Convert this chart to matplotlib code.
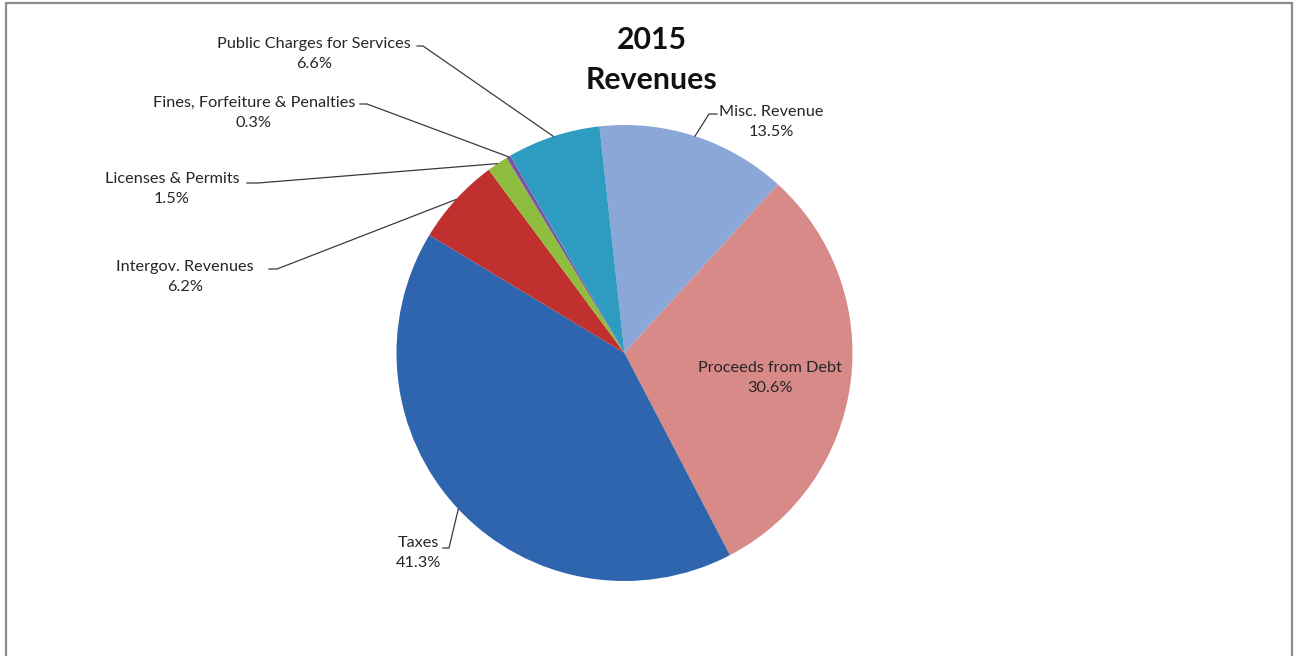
import matplotlib.pyplot as plt
from matplotlib.patches import Rectangle
import numpy as np

# 2015 revenue shares (percent)
categories = ["Misc. Revenue", "Proceeds from Debt", "Taxes", "Intergov. Revenues",
              "Licenses & Permits", "Fines, Forfeiture & Penalties",
              "Public Charges for Services"]
shares = [13.5, 30.6, 41.3, 6.2, 1.5, 0.3, 6.6]
colors = ["#8ba7d7", "#d78a88", "#2f64ae", "#bf302e", "#8fbd3d", "#7a55a6", "#2e9cc0"]

W, H = 1294, 656
fig = plt.figure(figsize=(W / 100, H / 100), dpi=100)
plt.rcParams['font.family'] = ['Lato', 'DejaVu Sans']

def px(x, y):
    # pixel position (from top-left) -> figure fraction
    return x / W, 1 - y / H

# light gray frame around the chart area
fig.patches.append(Rectangle(px(6, 700), (1292 - 6) / W, (700 - 3) / H,
                             transform=fig.transFigure, fill=False,
                             edgecolor="#8c8c8c", linewidth=1.6))

cx, cy, r = 624.5, 353, 228
ax = fig.add_axes([(cx - r) / W, (H - cy - r) / H, 2 * r / W, 2 * r / H])
start = 90 + 6.3
wedges, _ = ax.pie(shares, colors=colors, startangle=start, counterclock=False,
                   radius=1.0, wedgeprops=dict(linewidth=0))
ax.set_xlim(-1, 1)
ax.set_ylim(-1, 1)
ax.axis("off")

fig.text(*px(652, 60), "2015\nRevenues", ha="center", va="center",
         fontsize=21.8, fontweight="bold", color="#111111", linespacing=1.5)

txt_color = "#262626"
# label centre, leader start and end of the short horizontal tick
labels = {
    "Misc. Revenue": ((771, 122), (717, 114), (709, 114)),
    "Proceeds from Debt": ((770, 378), None, None),
    "Taxes": ((418, 553), (443, 548), (449, 548)),
    "Intergov. Revenues": ((185, 277), (269, 269), (277, 269)),
    "Licenses & Permits": ((172, 189), (247, 183), (258, 183)),
    "Fines, Forfeiture & Penalties": ((254, 113), (360, 104), (367, 104)),
    "Public Charges for Services": ((314, 54), (417, 46), (423, 46)),
}

tr = ax.transData
inv = fig.transFigure.inverted()
for w, name, val in zip(wedges, categories, shares):
    pos, p0, p1 = labels[name]
    fig.text(*px(*pos), f"{name}\n{val:.1f}%", ha="center", va="center",
             fontsize=11.7, color=txt_color, linespacing=1.48)
    if p0 is None:
        continue
    mid = np.deg2rad((w.theta1 + w.theta2) / 2)
    edge = inv.transform(tr.transform((np.cos(mid), np.sin(mid))))
    a, b = px(*p0), px(*p1)
    fig.add_artist(plt.Line2D([a[0], b[0], edge[0]], [a[1], b[1], edge[1]],
                              transform=fig.transFigure, color="#3a3a3a",
                              linewidth=0.9))

fig.savefig("out.png", dpi=100)
